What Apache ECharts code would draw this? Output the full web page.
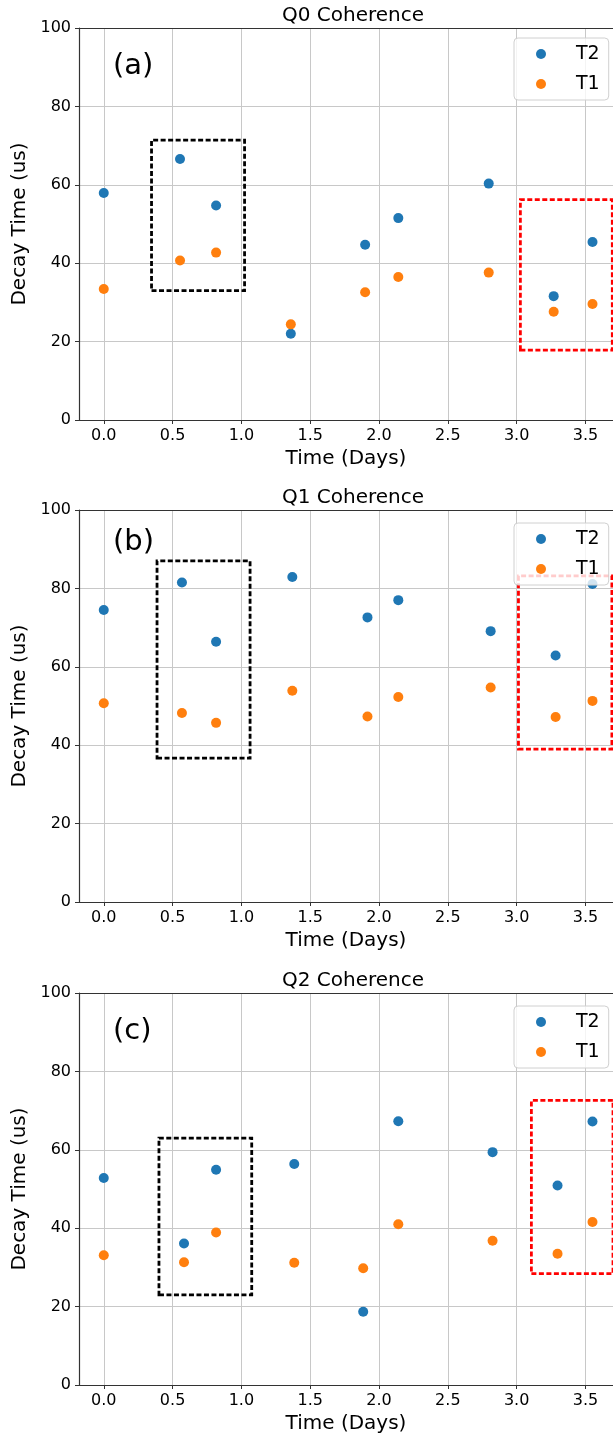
<!DOCTYPE html>
<html>
<head>
<meta charset="utf-8">
<script src="https://cdn.jsdelivr.net/npm/echarts@6/dist/echarts.min.js"></script>
<style>
  html, body { margin: 0; padding: 0; background: #fff; }
  #chart { width: 613px; height: 1441px; }
</style>
</head>
<body>
<div id="chart"></div>
<script>
// panel data (x in days, y in us)
var titles = ["Q0 Coherence", "Q1 Coherence", "Q2 Coherence"];
var tags = ["(a)", "(b)", "(c)"];

var q0Days = [0, 0.554, 0.816, 1.359, 1.899, 2.140, 2.797, 3.269, 3.551];
var q0T2 = [57.9, 66.6, 54.7, 22.0, 44.7, 51.5, 60.3, 31.6, 45.4];
var q0T1 = [33.4, 40.7, 42.7, 24.4, 32.6, 36.5, 37.6, 27.6, 29.6];

var q1Days = [0, 0.568, 0.816, 1.370, 1.916, 2.140, 2.811, 3.283, 3.551];
var q1T2 = [74.5, 81.5, 66.4, 82.9, 72.6, 77.0, 69.1, 62.9, 81.1];
var q1T1 = [50.7, 48.2, 45.7, 53.9, 47.3, 52.3, 54.7, 47.2, 51.3];

var q2Days = [0, 0.583, 0.816, 1.384, 1.885, 2.140, 2.825, 3.297, 3.551];
var q2T2 = [52.8, 36.1, 54.9, 56.4, 18.7, 67.3, 59.4, 50.9, 67.2];
var q2T1 = [33.1, 31.3, 38.9, 31.2, 29.8, 41.0, 36.8, 33.5, 41.6];

// highlight boxes [x0, y0, x1, y1]
var blackBoxes = [[0.347, 33.0, 1.023, 71.4], [0.387, 36.7, 1.063, 87.0], [0.401, 23.0, 1.075, 63.0]];
var redBoxes = [[3.027, 17.8, 3.695, 56.2], [3.013, 39.0, 3.692, 83.2], [3.107, 28.4, 3.70, 72.6]];

var xTicks = [0, 0.5, 1.0, 1.5, 2.0, 2.5, 3.0, 3.5];
var yTicks = [0, 20, 40, 60, 80, 100];

var days = [q0Days, q1Days, q2Days];
var t2 = [q0T2, q1T2, q2T2];
var t1 = [q0T1, q1T1, q2T1];

var FONT = "DejaVu Sans";
var tops = [28, 510, 993];
var plotH = 392;

function pairs(xs, ys) {
  return xs.map(function (x, i) { return [x, ys[i]]; });
}
function boxArea(b) {
  return [[{ xAxis: b[0], yAxis: b[1] }, { xAxis: b[2], yAxis: b[3] }]];
}

var grids = [], xAxes = [], yAxes = [], series = [], legends = [], titleList = [], graphics = [];

tops.forEach(function (top, i) {
  grids.push({ left: 79, top: top, width: 534, height: plotH });

  xAxes.push({
    type: "value", gridIndex: i, min: -0.18, max: 3.70,
    name: "Time (Days)", nameLocation: "middle", nameGap: 29,
    nameTextStyle: { fontFamily: FONT, fontSize: 20, color: "#000" },
    axisLine: { onZero: false, lineStyle: { color: "#333", width: 1.2 } },
    axisTick: { show: true, length: 4, customValues: xTicks, lineStyle: { color: "#333" } },
    axisLabel: {
      customValues: xTicks, margin: 8, fontFamily: FONT, fontSize: 16, color: "#000",
      formatter: function (v) { return v.toFixed(1); }
    },
    splitLine: { show: true, lineStyle: { color: "#c8c8c8", width: 1 } }
  });

  yAxes.push({
    type: "value", gridIndex: i, min: 0, max: 100, interval: 20,
    name: "Decay Time (us)", nameLocation: "middle", nameGap: 43, nameRotate: 90,
    nameTextStyle: { fontFamily: FONT, fontSize: 20, color: "#000" },
    axisLine: { show: true, onZero: false, lineStyle: { color: "#333", width: 1.2 } },
    axisTick: { show: true, length: 4, customValues: yTicks, lineStyle: { color: "#333" } },
    axisLabel: { customValues: yTicks, margin: 8, fontFamily: FONT, fontSize: 16, color: "#000" },
    splitLine: { show: true, lineStyle: { color: "#c8c8c8", width: 1 } }
  });

  titleList.push({
    text: titles[i], left: 348, top: top - 27, textAlign: "center",
    textStyle: { fontFamily: FONT, fontSize: 20, fontWeight: "normal", color: "#000" }
  });

  series.push({
    name: "T2", type: "scatter", xAxisIndex: i, yAxisIndex: i,
    symbolSize: 10, itemStyle: { color: "#1f77b4", opacity: 1 },
    data: pairs(days[i], t2[i]),
    markArea: {
      silent: true,
      itemStyle: { color: "rgba(0,0,0,0)", borderColor: "#000", borderWidth: 2.8, borderType: [5, 2.5] },
      data: boxArea(blackBoxes[i])
    }
  });
  series.push({
    name: "T1", type: "scatter", xAxisIndex: i, yAxisIndex: i,
    symbolSize: 10, itemStyle: { color: "#ff7f0e", opacity: 1 },
    data: pairs(days[i], t1[i]),
    markArea: {
      silent: true,
      itemStyle: { color: "rgba(0,0,0,0)", borderColor: "#ff0000", borderWidth: 2.8, borderType: [5, 2.5] },
      data: boxArea(redBoxes[i])
    }
  });

  legends.push({
    data: ["T2", "T1"], orient: "vertical", left: 514, top: top + 10 + (i === 0 ? 0 : 3),
    icon: "circle", itemWidth: 10, itemHeight: 10, itemGap: 10,
    padding: [6, 9, 6, 22],
    backgroundColor: "rgba(255,255,255,0.8)", borderColor: "#d0d0d0", borderWidth: 1, borderRadius: 4,
    textStyle: { fontFamily: FONT, fontSize: 19, color: "#000", padding: [0, 0, 0, 25], lineHeight: 20 }
  });

  graphics.push({
    type: "text", left: 113, top: top + (i === 1 ? 18 : 24),
    style: { text: tags[i], font: "29px '" + FONT + "'", fill: "#000" }
  });
});

// top spines
tops.forEach(function (top, i) {
  xAxes.push({
    type: "value", gridIndex: i, position: "top", min: -0.18, max: 3.70,
    axisLine: { show: true, onZero: false, lineStyle: { color: "#333", width: 1.2 } },
    axisTick: { show: false }, axisLabel: { show: false }, splitLine: { show: false }
  });
});

var chart = echarts.init(document.getElementById("chart"), null, { renderer: "canvas" });
chart.setOption({
  animation: false,
  backgroundColor: "#fff",
  title: titleList,
  grid: grids,
  xAxis: xAxes,
  yAxis: yAxes,
  legend: legends,
  series: series,
  graphic: graphics
});
</script>
</body>
</html>
